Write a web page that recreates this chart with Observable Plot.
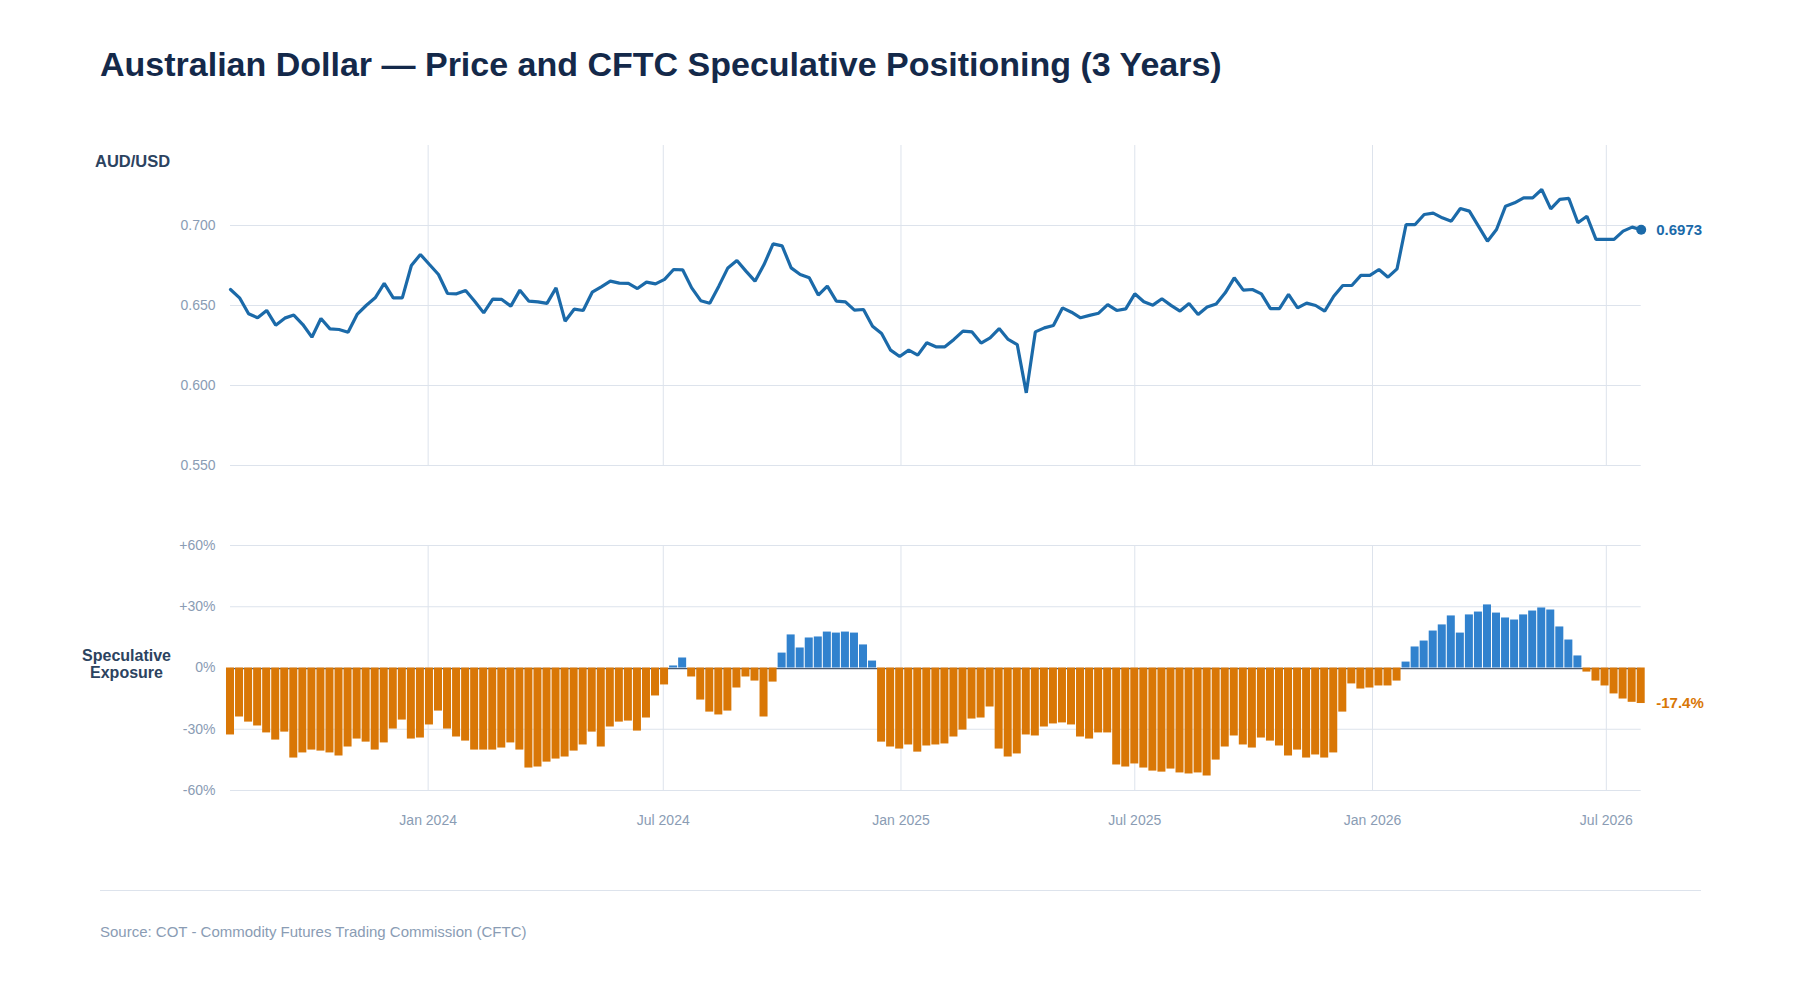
<!DOCTYPE html>
<html>
<head>
<meta charset="utf-8">
<script src="https://cdn.jsdelivr.net/npm/d3@7"></script>
<script src="https://cdn.jsdelivr.net/npm/@observablehq/plot@0.6"></script>
<style>
  html, body { margin: 0; padding: 0; background: #ffffff; }
  #page { position: relative; width: 1800px; height: 1000px; background: #ffffff; font-family: "Liberation Sans", Arial, sans-serif; overflow: hidden; }
  .abs { position: absolute; line-height: 1; white-space: nowrap; }
  #title { left: 100px; top: 47px; font-size: 34px; font-weight: bold; color: #14294a; }
  #audLabel { left: 95px; top: 152.5px; font-size: 16.5px; font-weight: bold; color: #2c4360; }
  #specLabel { left: 66px; top: 648px; width: 121px; text-align: center; font-size: 16px; line-height: 16.6px; font-weight: bold; color: #2c4360; }
  #sep { left: 100px; top: 890px; width: 1601px; height: 1px; background: #dde3ec; }
  #source { left: 100px; top: 924px; font-size: 15px; color: #8a9cb4; }
  #topChart { position: absolute; left: 0; top: 130px; }
  #botChart { position: absolute; left: 0; top: 530px; }
</style>
</head>
<body>
<div id="page">
  <div id="title" class="abs">Australian Dollar — Price and CFTC Speculative Positioning (3 Years)</div>
  <div id="audLabel" class="abs">AUD/USD</div>
  <div id="specLabel" class="abs">Speculative<br>Exposure</div>
  <div id="topChart"></div>
  <div id="botChart"></div>
  <div id="sep" class="abs"></div>
  <div id="source" class="abs">Source: COT - Commodity Futures Trading Commission (CFTC)</div>
</div>
<script>
// ---- Data ----
const startDate = "2023-08-01";   // first weekly COT report date (Tuesday)
const weeks = 157;

const audusd = [
  0.6600, 0.6548, 0.6448, 0.6423, 0.6469, 0.6377, 0.6421, 0.6440, 0.6381, 0.6302,
  0.6419, 0.6354, 0.6350, 0.6333, 0.6444, 0.6500, 0.6548, 0.6638, 0.6548, 0.6548,
  0.6750, 0.6819, 0.6756, 0.6694, 0.6575, 0.6573, 0.6594, 0.6527, 0.6454, 0.6540,
  0.6538, 0.6496, 0.6596, 0.6527, 0.6523, 0.6513, 0.6610, 0.6402, 0.6477, 0.6469,
  0.6583, 0.6617, 0.6652, 0.6640, 0.6638, 0.6606, 0.6646, 0.6635, 0.6663, 0.6725,
  0.6723, 0.6610, 0.6530, 0.6514, 0.6621, 0.6735, 0.6781, 0.6715, 0.6652, 0.6756,
  0.6885, 0.6873, 0.6735, 0.6694, 0.6673, 0.6565, 0.6621, 0.6527, 0.6523, 0.6471,
  0.6475, 0.6371, 0.6325, 0.6221, 0.6181, 0.6221, 0.6190, 0.6267, 0.6242, 0.6242,
  0.6288, 0.6340, 0.6335, 0.6265, 0.6298, 0.6356, 0.6288, 0.6256, 0.5954, 0.6335,
  0.6360, 0.6375, 0.6485, 0.6458, 0.6423, 0.6438, 0.6452, 0.6506, 0.6469, 0.6479,
  0.6573, 0.6523, 0.6502, 0.6542, 0.6501, 0.6465, 0.6512, 0.6444, 0.6490, 0.6510,
  0.6579, 0.6673, 0.6596, 0.6600, 0.6573, 0.6481, 0.6481, 0.6569, 0.6485, 0.6515,
  0.6500, 0.6465, 0.6558, 0.6625, 0.6625, 0.6688, 0.6688, 0.6725, 0.6677, 0.6729,
  0.7006, 0.7006, 0.7069, 0.7077, 0.7048, 0.7027, 0.7106, 0.7090, 0.6996, 0.6902,
  0.6975, 0.7121, 0.7142, 0.7173, 0.7173, 0.7225, 0.7104, 0.7163, 0.7169, 0.7017,
  0.7058, 0.6913, 0.6913, 0.6913, 0.6965, 0.6990, 0.6973
];

const exposure = [
  -32.8, -24.0, -26.5, -28.4, -31.8, -35.3, -31.4, -44.1, -41.6, -40.2,
  -40.7, -41.6, -43.1, -38.7, -34.8, -36.3, -40.2, -36.7, -29.9, -25.5,
  -34.8, -34.3, -27.9, -21.1, -29.9, -33.8, -35.8, -40.2, -40.2, -40.2,
  -39.2, -36.7, -40.2, -49.0, -48.5, -46.1, -44.6, -43.6, -40.7, -37.7,
  -31.4, -38.7, -28.9, -26.5, -26.0, -30.9, -24.5, -13.7, -8.3, 1.0,
  4.9, -4.4, -15.7, -21.6, -23.0, -21.1, -9.8, -4.4, -6.4, -24.0,
  -6.9, 7.3, 16.2, 9.8, 14.7, 15.2, 17.6, 17.1, 17.6, 17.1,
  11.3, 3.4, -36.3, -38.7, -39.7, -37.7, -41.2, -38.2, -37.7, -37.2,
  -33.8, -30.4, -25.0, -24.5, -19.1, -39.7, -43.6, -42.1, -32.8, -33.3,
  -28.9, -27.4, -26.9, -27.9, -33.8, -34.8, -31.8, -31.8, -47.5, -48.5,
  -47.0, -49.0, -50.5, -51.0, -49.5, -51.4, -51.9, -51.4, -52.9, -45.1,
  -38.7, -33.3, -37.7, -39.2, -34.3, -35.8, -38.2, -43.1, -40.2, -44.1,
  -42.6, -44.1, -41.6, -21.6, -7.8, -10.3, -9.8, -8.8, -8.8, -6.4,
  2.9, 10.3, 13.2, 18.1, 21.1, 25.5, 17.1, 26.0, 27.4, 30.9,
  26.9, 24.5, 23.5, 26.0, 27.9, 29.4, 28.4, 20.1, 13.7, 5.9,
  -2.0, -6.4, -8.8, -12.7, -15.2, -16.8, -17.4
];

const xTickDates = ["2024-01-01", "2024-07-01", "2025-01-01", "2025-07-01", "2026-01-01", "2026-07-01"];
const priceTicks = [0.55, 0.60, 0.65, 0.70];
const priceDomain = [0.55, 0.75];
const exposureTicks = [-60, -30, 0, 30, 60];
const exposureDomain = [-60, 60];

// ---- Build tables ----
const DAY = 864e5;
const t0 = new Date(startDate + "T00:00:00Z").getTime();
const dates = d3.range(weeks).map(i => new Date(t0 + i * 7 * DAY));
const priceRows = dates.map((d, i) => ({date: d, price: audusd[i]}));
const expRows = dates.map((d, i) => ({date: d, value: exposure[i]}));
const gridDates = xTickDates.map(s => new Date(s + "T00:00:00Z"));
const xDomain = [dates[0], dates[dates.length - 1]];

const FONT = '"Liberation Sans", Arial, sans-serif';
const GRID = "#dde3ec";
const TICK = "#8a9cb4";
const LINE = "#1b6aa9";
const POS = "#3182ce";
const NEG = "#d97706";
const W = 1800, ML = 230, MR = 159.3;

const baseStyle = {fontFamily: FONT, fontSize: "14px", color: TICK, background: "transparent", overflow: "visible"};

// ---- Top: price ----
const lastP = priceRows[priceRows.length - 1];
const topPlot = Plot.plot({
  width: W, height: 345,
  marginLeft: ML, marginRight: MR, marginTop: 15, marginBottom: 10,
  style: baseStyle,
  x: {type: "utc", domain: xDomain, axis: null},
  y: {domain: priceDomain, axis: null},
  marks: [
    Plot.gridY(priceTicks, {stroke: GRID, strokeOpacity: 1, strokeWidth: 1}),
    Plot.gridX(gridDates, {stroke: GRID, strokeOpacity: 1, strokeWidth: 1}),
    Plot.axisY(priceTicks, {tickSize: 0, tickPadding: 15, tickFormat: d3.format(".3f"), label: null, fill: TICK}),
    Plot.line(priceRows, {x: "date", y: "price", stroke: LINE, strokeWidth: 3.2, strokeLinejoin: "miter"}),
    Plot.dot([lastP], {x: "date", y: "price", r: 5, fill: LINE, stroke: "none"}),
    Plot.text([lastP], {x: "date", y: "price", text: d => d.price.toFixed(4), dx: 15, textAnchor: "start",
      fill: LINE, fontWeight: "bold", fontSize: 15})
  ]
});
document.getElementById("topChart").appendChild(topPlot);

// ---- Bottom: exposure ----
const half = 3.1 * DAY;
const lastE = expRows[expRows.length - 1];
const botPlot = Plot.plot({
  width: W, height: 310,
  marginLeft: ML, marginRight: MR, marginTop: 15, marginBottom: 50,
  style: baseStyle,
  x: {type: "utc", domain: xDomain, axis: null},
  y: {domain: exposureDomain, axis: null},
  marks: [
    Plot.gridY(exposureTicks, {stroke: GRID, strokeOpacity: 1, strokeWidth: 1}),
    Plot.gridX(gridDates, {stroke: GRID, strokeOpacity: 1, strokeWidth: 1}),
    Plot.ruleY([0], {stroke: "#4a5a70", strokeWidth: 1.4, dy: 0.6}),
    Plot.rectY(expRows.filter(d => d.value >= 0), {
      x1: d => new Date(+d.date - half), x2: d => new Date(+d.date + half),
      y1: 0, y2: "value", fill: POS}),
    Plot.rectY(expRows.filter(d => d.value < 0), {
      x1: d => new Date(+d.date - half), x2: d => new Date(+d.date + half),
      y1: 0, y2: "value", fill: NEG}),
    Plot.axisY(exposureTicks, {tickSize: 0, tickPadding: 15, label: null, fill: TICK,
      tickFormat: d => (d > 0 ? "+" : d < 0 ? "-" : "") + Math.abs(d) + "%"}),
    Plot.axisX(gridDates, {tickSize: 0, tickPadding: 25, label: null, fill: TICK,
      tickFormat: d3.utcFormat("%b %Y")}),
    Plot.text([lastE], {x: "date", y: "value", text: d => d.value.toFixed(1) + "%", dx: 15, textAnchor: "start",
      fill: NEG, fontWeight: "bold", fontSize: 15})
  ]
});
document.getElementById("botChart").appendChild(botPlot);
</script>
</body>
</html>
